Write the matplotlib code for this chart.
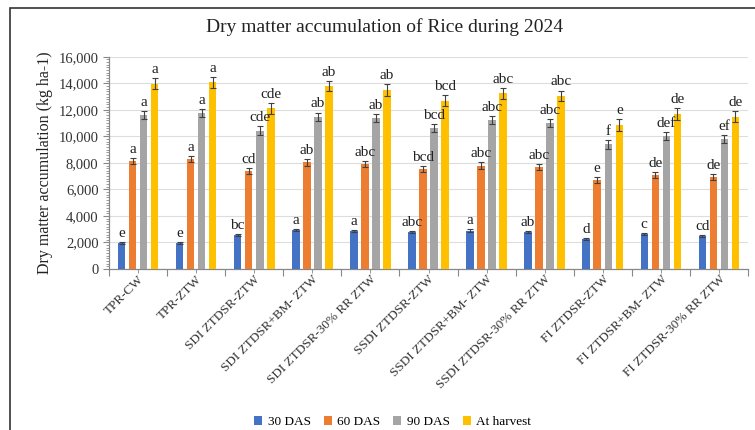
import matplotlib.pyplot as plt
import numpy as np
from matplotlib.patches import Rectangle
from matplotlib.ticker import FuncFormatter, MultipleLocator

plt.rcParams['font.family'] = ['Liberation Serif', 'DejaVu Serif']

treatments = ['TPR-CW', 'TPR-ZTW', 'SDI ZTDSR-ZTW', 'SDI ZTDSR+BM- ZTW',
              'SDI ZTDSR-30% RR ZTW', 'SSDI ZTDSR-ZTW', 'SSDI ZTDSR+BM- ZTW',
              'SSDI ZTDSR-30% RR ZTW', 'FI ZTDSR-ZTW', 'FI ZTDSR+BM- ZTW',
              'FI ZTDSR-30% RR ZTW']
stages = ['30 DAS', '60 DAS', '90 DAS', 'At harvest']
colors = ['#4472C4', '#ED7D31', '#A5A5A5', '#FFC000']

das30 = [1950, 1950, 2560, 2940, 2860, 2760, 2890, 2810, 2260, 2610, 2490]
das60 = [8160, 8270, 7390, 8040, 7890, 7510, 7790, 7660, 6710, 7080, 6960]
das90 = [11600, 11730, 10420, 11480, 11350, 10650, 11230, 11030, 9400, 10020, 9800]
harvest = [13950, 14070, 12110, 13790, 13490, 12680, 13240, 13040, 10850, 11680, 11480]

err30 = [90, 90, 80, 90, 90, 70, 90, 80, 70, 70, 80]
err60 = [230, 220, 250, 240, 230, 230, 240, 230, 230, 230, 220]
err90 = [320, 300, 330, 310, 300, 300, 310, 300, 320, 320, 300]
errh = [420, 420, 430, 410, 420, 410, 420, 410, 430, 420, 400]

let30 = ['e', 'e', 'bc', 'a', 'a', 'abc', 'a', 'ab', 'd', 'c', 'cd']
let60 = ['a', 'a', 'cd', 'ab', 'abc', 'bcd', 'abc', 'abc', 'e', 'de', 'de']
let90 = ['a', 'a', 'cde', 'ab', 'ab', 'bcd', 'abc', 'abc', 'f', 'def', 'ef']
leth = ['a', 'a', 'cde', 'ab', 'ab', 'bcd', 'abc', 'abc', 'e', 'de', 'de']

series = [das30, das60, das90, harvest]
errors = [err30, err60, err90, errh]
letters = [let30, let60, let90, leth]

fig = plt.figure(figsize=(7.55, 4.30), dpi=100)
ax = fig.add_axes([0.1444, 0.3744, 0.8463, 0.4937])

x = np.arange(len(treatments))
width = 0.13
step = 0.19
for i, (vals, errs, labs) in enumerate(zip(series, errors, letters)):
    pos = x + (i - 1.5) * step
    ax.bar(pos, vals, width, color=colors[i], label=stages[i], zorder=3)
    ax.errorbar(pos, vals, yerr=errs, fmt='none', ecolor='#404040',
                elinewidth=0.8, capsize=2.2, capthick=0.8, zorder=4)
    for p, v, e, t in zip(pos, vals, errs, labs):
        ax.annotate(t, (p, v + e), xytext=(0, 1.5), textcoords='offset points',
                    ha='center', va='bottom', fontsize=11, color='#222222',
                    zorder=5)

ax.set_xlim(-0.5, len(treatments) - 0.5)
ax.set_ylim(0, 16000)
ax.yaxis.set_major_locator(MultipleLocator(2000))
ax.yaxis.set_minor_locator(MultipleLocator(200))
ax.yaxis.set_major_formatter(FuncFormatter(lambda v, _: f'{int(v):,}'))
ax.grid(axis='y', color='#DDDDDD', linewidth=0.8, zorder=0)

# category ticks at group boundaries and group centres
ax.set_xticks(np.arange(-0.5, len(treatments), 1.0))
ax.set_xticklabels([])
ax.set_xticks(x, minor=True)
ax.set_xticklabels(treatments, minor=True, rotation=45, ha='right',
                   rotation_mode='anchor', fontsize=9.5, color='#333333')
ax.tick_params(axis='x', which='major', length=5, color='#888888')
ax.tick_params(axis='x', which='minor', length=3, color='#888888', pad=0)
ax.tick_params(axis='y', which='major', length=4, color='#888888',
               labelsize=10.5, labelcolor='#333333')
ax.tick_params(axis='y', which='minor', length=2.5, color='#888888')

for side in ['top', 'right']:
    ax.spines[side].set_visible(False)
for side in ['left', 'bottom']:
    ax.spines[side].set_color('#888888')
    ax.spines[side].set_linewidth(0.9)

ax.set_ylabel('Dry matter accumulation (kg ha-1)', fontsize=11.5,
              color='#222222', labelpad=4)

fig.text(0.509, 0.938, 'Dry matter accumulation of Rice during 2024',
         ha='center', va='center', fontsize=14, color='#222222')

handles, labels = ax.get_legend_handles_labels()
fig.legend(handles, labels, loc='center', bbox_to_anchor=(0.52, 0.018),
           ncol=4, frameon=False, fontsize=9.5, handlelength=0.6,
           handleheight=0.6, handletextpad=0.4, columnspacing=1.0)

# outer frame around the chart
fig.patches.append(Rectangle((10 / 755, -0.1), 1.2, 1 - 8 / 430 + 0.1,
                             transform=fig.transFigure, fill=False,
                             edgecolor='#333333', linewidth=1.2))

fig.savefig('out.png', dpi=100)
